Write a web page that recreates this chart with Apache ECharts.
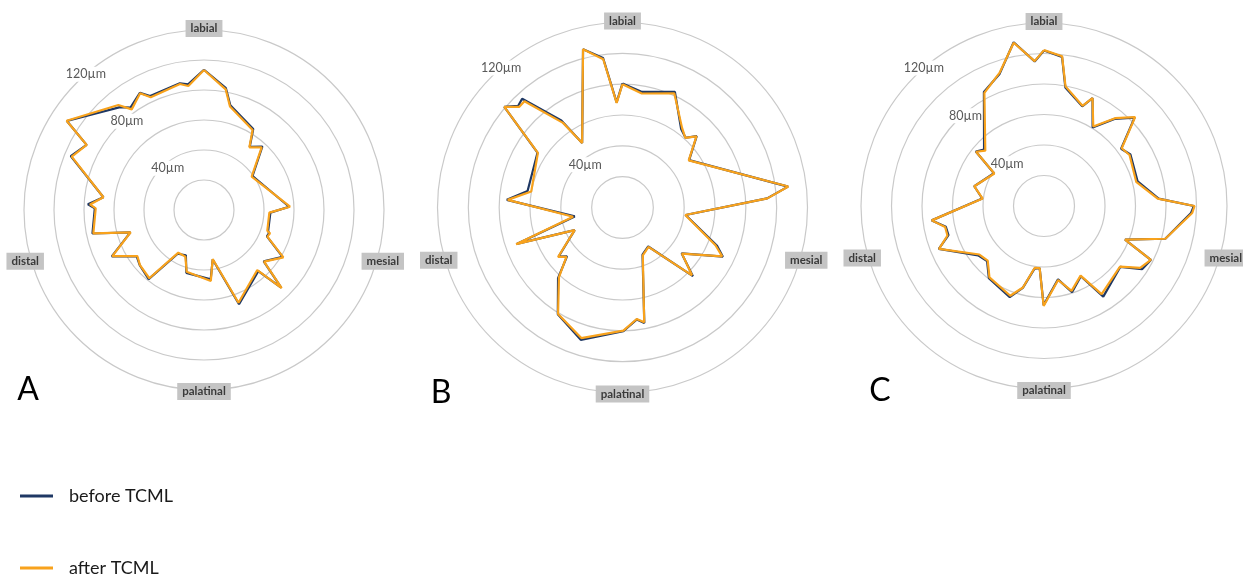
<!DOCTYPE html>
<html>
<head>
<meta charset="utf-8">
<title>Marginal gap before and after TCML</title>
<script src="https://cdn.jsdelivr.net/npm/echarts/dist/echarts.min.js"></script>
<style>
  html, body { margin: 0; padding: 0; background: #ffffff; }
  #chart { width: 1243px; height: 578px; }
</style>
</head>
<body>
<div id="chart"></div>
<script>
// Measurement angle (degrees, clockwise from labial) and marginal gap (µm) per specimen
const anglesA = [0, 10.2, 14.1, 31.3, 35.9, 42.6, 55.0, 87.8, 92.3, 108.1, 109.5, 112.8, 120.8, 130.7, 135.2, 138.4, 159.6, 170.0, 174.5, 195.7, 201.8, 211.0, 218.7, 229.3, 235.4, 243.3, 253.1, 258.1, 270.9, 272.8, 277.2, 292.0, 299.0, 303.0, 320.8, 324.3, 331.3, 334.7, 349.2, 352.8];
const beforeA = [93.5, 82.5, 72.0, 63.2, 52.0, 57.5, 39.5, 56.8, 44.3, 45.0, 46.0, 45.5, 61.0, 52.5, 73.0, 54.5, 67.0, 33.5, 46.5, 43.5, 32.5, 34.0, 59.0, 56.5, 54.5, 68.8, 51.3, 76.0, 72.8, 77.5, 67.6, 95.8, 89.5, 109.0, 88.5, 84.0, 89.0, 84.0, 86.0, 84.5];
const afterA  = [93.3, 81.7, 71.1, 62.4, 51.6, 56.8, 38.8, 57.4, 43.6, 44.4, 46.7, 45.8, 61.6, 52.8, 73.5, 53.5, 66.0, 33.2, 47.5, 42.7, 33.5, 33.2, 58.3, 56.3, 54.0, 68.4, 51.1, 75.4, 72.2, 76.1, 67.6, 95.1, 89.4, 109.2, 90.3, 82.6, 88.7, 83.1, 85.5, 83.3];

const anglesB = [0, 9.6, 24.4, 36.8, 42.1, 46.1, 54.6, 82.8, 86.4, 96.8, 112.1, 116.1, 127.8, 134.3, 146.6, 157.0, 169.3, 172.7, 179.6, 197.5, 211.2, 222.4, 228.6, 232.5, 244.7, 251.0, 259.4, 273.8, 279.9, 302.8, 310.4, 314.3, 317.3, 324.9, 328.0, 346.0, 352.6, 356.8];
const beforeB = [80.5, 76.0, 82.3, 63.5, 61.0, 66.8, 53.0, 108.2, 94.0, 41.2, 66.2, 72.5, 48.5, 63.8, 30.3, 33.2, 76.2, 73.2, 80.3, 90.0, 81.0, 62.0, 48.0, 52.2, 34.3, 72.6, 31.5, 75.2, 62.5, 65.6, 100.7, 94.5, 96.0, 69.0, 49.4, 105.8, 97.8, 68.3];
const afterB  = [80.0, 75.0, 81.3, 64.5, 60.8, 66.6, 52.7, 108.4, 94.2, 41.0, 65.1, 72.0, 48.8, 63.0, 30.6, 33.7, 75.8, 72.9, 79.9, 88.8, 80.7, 61.1, 48.5, 52.7, 34.3, 73.0, 32.6, 74.6, 60.1, 65.3, 100.7, 93.5, 93.8, 67.1, 49.4, 105.8, 97.0, 68.0];

const anglesC = [0, 6.9, 10.2, 21.0, 24.2, 31.8, 39.0, 45.7, 53.4, 59.2, 75.3, 86.3, 90.0, 92.7, 105.1, 112.5, 116.8, 122.8, 128.6, 146.8, 152.3, 162.0, 169.2, 180.2, 184.0, 188.6, 194.5, 200.6, 217.4, 225.9, 233.1, 247.8, 253.0, 258.0, 262.7, 276.9, 285.8, 303.2, 308.6, 313.3, 332.2, 341.5, 349.5, 356.3];
const beforeC = [102.0, 98.5, 79.0, 70.0, 77.6, 60.5, 73.5, 83.0, 63.0, 66.0, 63.5, 75.3, 98.3, 96.5, 82.4, 57.5, 78.5, 76.5, 64.0, 71.0, 52.0, 59.5, 49.0, 65.0, 40.8, 41.5, 55.5, 63.8, 59.5, 52.0, 54.0, 74.5, 65.5, 65.8, 74.2, 40.8, 47.5, 39.2, 57.2, 54.0, 84.5, 91.5, 109.2, 95.0];
const afterC  = [102.2, 98.9, 79.7, 70.4, 77.6, 61.3, 74.1, 83.5, 63.5, 65.3, 62.5, 74.7, 98.7, 97.3, 82.4, 57.5, 78.5, 75.0, 63.8, 69.0, 51.6, 58.5, 49.4, 65.5, 40.8, 41.1, 55.2, 62.9, 58.9, 51.4, 53.0, 74.3, 66.2, 66.3, 74.2, 40.5, 47.5, 38.9, 57.0, 52.9, 83.8, 92.0, 108.9, 95.2];

// Reference directions on the outer ring
const directionNames  = ['labial', 'mesial', 'palatinal', 'distal'];
const directionAngles = [0, 106, 180, 254];

// Gap rings and their labels
const ringMax = 120;
const ringStep = 20;
const ringLabelValues = [40, 80, 120];
const ringLabelValuesB = [40, 120];

const seriesNames = ['before TCML', 'after TCML'];
const panelLetters = ['A', 'B', 'C'];

const colors = { before: '#1f3864', after: '#f8a21c', ring: '#c9c9c9', box: '#c4c4c4' };

const panels = [
  { angles: anglesA, before: beforeA, after: afterA, center: [204, 210], radius: 180, rings: ringLabelValues, letterPos: [28, 390] },
  { angles: anglesB, before: beforeB, after: afterB, center: [622.5, 207.5], radius: 185, rings: ringLabelValuesB, letterPos: [441, 393] },
  { angles: anglesC, before: beforeC, after: afterC, center: [1044, 206], radius: 183, rings: ringLabelValues, letterPos: [880, 391] }
];

// Pair gaps with angles and close the outline back to the first point
function outline(angles, values) {
  const pts = angles.map((a, i) => [values[i], a]);
  pts.push([values[0], 360]);
  return pts;
}

const polar = panels.map(p => ({ center: p.center, radius: p.radius }));

const angleAxis = panels.map((p, i) => ({
  polarIndex: i,
  type: 'value', min: 0, max: 360,
  startAngle: 90, clockwise: true,
  axisLine: { show: false }, axisTick: { show: false },
  axisLabel: { show: false }, splitLine: { show: false }
}));

const radiusAxis = panels.map((p, i) => ({
  polarIndex: i,
  type: 'value', min: 0, max: ringMax, interval: ringStep,
  axisLine: { show: false }, axisTick: { show: false }, axisLabel: { show: false },
  splitLine: { show: true, lineStyle: { color: colors.ring, width: 1.2 } }
}));

const series = [];
panels.forEach((p, i) => {
  series.push({
    name: seriesNames[0], type: 'line', coordinateSystem: 'polar', polarIndex: i,
    data: outline(p.angles, p.before), symbol: 'none', smooth: false,
    lineStyle: { color: colors.before, width: 2.2 }, itemStyle: { color: colors.before }, z: 2
  });
  series.push({
    name: seriesNames[1], type: 'line', coordinateSystem: 'polar', polarIndex: i,
    data: outline(p.angles, p.after), symbol: 'none', smooth: false,
    lineStyle: { color: colors.after, width: 2.2 }, itemStyle: { color: colors.after }, z: 3
  });
});

const chart = echarts.init(document.getElementById('chart'), null, { renderer: 'canvas' });
chart.setOption({
  animation: false,
  backgroundColor: '#ffffff',
  polar, angleAxis, radiusAxis, series,
  legend: {
    data: seriesNames, orient: 'vertical', left: 20, top: 487, height: 150, padding: 0,
    icon: 'rect', itemWidth: 33, itemHeight: 3, itemGap: 54,
    textStyle: { fontFamily: 'Lato', fontSize: 18, color: '#1a1a1a', padding: [0, 0, 0, 11] }
  }
});

// Text labels placed through each polar system
const graphic = [];
panels.forEach((p, i) => {
  const sIdx = i * 2;
  directionNames.forEach((name, k) => {
    const a = directionAngles[k];
    const r = (a % 180 === 0) ? ringMax + 1 : ringMax + 4;
    const pt = chart.convertToPixel({ seriesIndex: sIdx }, [r, a]);
    graphic.push({
      type: 'text', x: pt[0], y: pt[1], z: 20,
      style: {
        text: name, align: 'center', verticalAlign: 'middle',
        font: 'bold 11.5px Lato', fill: '#3a3a3a',
        backgroundColor: colors.box, padding: [3, 5, 2, 5]
      }
    });
  });
  p.rings.forEach(v => {
    const r = v - (ringMax - v) * 0.04;
    const pt = chart.convertToPixel({ seriesIndex: sIdx }, [r, 319]);
    graphic.push({
      type: 'text', x: pt[0], y: pt[1], z: 1,
      style: {
        text: v + 'µm', align: 'center', verticalAlign: 'middle',
        font: '12.5px Lato', fill: '#595959',
        backgroundColor: '#ffffff', padding: [1, 2]
      }
    });
  });
  graphic.push({
    type: 'text', x: p.letterPos[0], y: p.letterPos[1], z: 20,
    style: {
      text: panelLetters[i], align: 'center', verticalAlign: 'middle',
      font: '32px Lato', fill: '#000000'
    }
  });
});
chart.setOption({ graphic });
</script>
</body>
</html>
